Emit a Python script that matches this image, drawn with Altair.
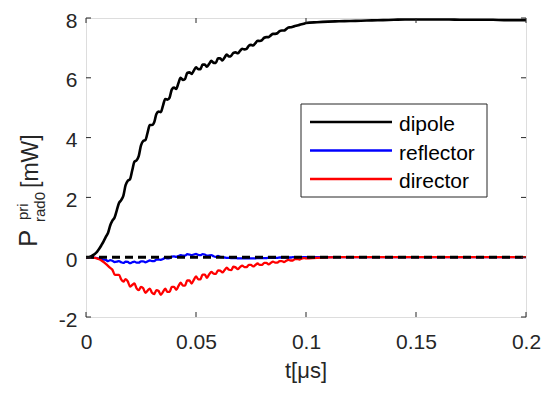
import altair as alt
import pandas as pd
import numpy as np

# ---------------- data ----------------
series_names = ["dipole", "reflector", "director"]
series_colors = ["#000000", "#0000ff", "#ff0000"]

t_fine = np.round(np.arange(0, 101) * 0.001, 3).tolist()
t_coarse = [0.105, 0.11, 0.115, 0.12, 0.125, 0.13, 0.135, 0.14, 0.145, 0.15,
            0.155, 0.16, 0.165, 0.17, 0.175, 0.18, 0.185, 0.19, 0.195, 0.2]

dipole = [0.00, 0.00, 0.02, 0.06, 0.11, 0.18, 0.28, 0.40, 0.53, 0.68,
          0.81, 1.06, 1.22, 1.33, 1.57, 1.81, 1.91, 2.06, 2.41, 2.56,
          2.61, 2.90, 3.19, 3.24, 3.39, 3.74, 3.89, 3.92, 4.17, 4.42,
          4.42, 4.51, 4.79, 4.87, 4.85, 5.07, 5.29, 5.27, 5.34, 5.61,
          5.67, 5.63, 5.82, 6.00, 5.93, 5.96, 6.16, 6.18, 6.13, 6.24,
          6.35, 6.29, 6.29, 6.44, 6.44, 6.37, 6.47, 6.57, 6.50, 6.50,
          6.65, 6.65, 6.58, 6.68, 6.78, 6.71, 6.74, 6.83, 6.85, 6.82,
          6.90, 6.97, 6.95, 6.97, 7.07, 7.10, 7.08, 7.16, 7.24, 7.23,
          7.26, 7.34, 7.36, 7.36, 7.42, 7.47, 7.47, 7.49, 7.56, 7.58,
          7.58, 7.63, 7.68, 7.69, 7.71, 7.73, 7.75, 7.77, 7.79, 7.81,
          7.83,
          7.86, 7.88, 7.89, 7.90, 7.91, 7.92, 7.93, 7.94, 7.95, 7.95,
          7.95, 7.95, 7.95, 7.94, 7.94, 7.94, 7.94, 7.93, 7.93, 7.93]

reflector = [0.00, 0.00, 0.00, -0.01, -0.02, -0.03, -0.05, -0.06, -0.08, -0.09,
             -0.13, -0.10, -0.12, -0.16, -0.15, -0.13, -0.17, -0.19, -0.15, -0.16,
             -0.20, -0.17, -0.15, -0.18, -0.18, -0.14, -0.14, -0.17, -0.14, -0.11,
             -0.13, -0.13, -0.08, -0.08, -0.09, -0.06, -0.02, -0.04, -0.03, 0.02,
             0.03, 0.01, 0.04, 0.07, 0.05, 0.05, 0.10, 0.09, 0.07, 0.09,
             0.11, 0.08, 0.07, 0.10, 0.09, 0.05, 0.06, 0.07, 0.03, 0.01,
             0.04, 0.01, 0.00, -0.01, -0.02, -0.02, -0.03, -0.03, -0.03, -0.04,
             -0.04, -0.04, -0.04, -0.04, -0.04, -0.04, -0.04, -0.04, -0.03, -0.03,
             -0.03, -0.03, -0.03, -0.02, -0.02, -0.02, -0.02, -0.02, -0.01, -0.01,
             -0.01, -0.01, -0.01, -0.01, 0.00, 0.00, 0.00, 0.00, 0.00, 0.00,
             0.00,
             0.00, 0.00, 0.00, 0.00, 0.00, 0.00, 0.00, 0.00, 0.00, 0.00,
             0.00, 0.00, 0.00, 0.00, 0.00, 0.00, 0.00, 0.00, 0.00, 0.00]

director = [0.00, 0.00, 0.00, -0.01, -0.02, -0.04, -0.07, -0.11, -0.16, -0.22,
            -0.29, -0.36, -0.42, -0.58, -0.59, -0.59, -0.74, -0.82, -0.73, -0.81,
            -0.98, -0.93, -0.88, -1.04, -1.10, -0.99, -1.04, -1.19, -1.12, -1.05,
            -1.19, -1.23, -1.10, -1.13, -1.26, -1.16, -1.05, -1.16, -1.16, -0.99,
            -0.99, -1.09, -0.97, -0.85, -0.95, -0.95, -0.78, -0.78, -0.88, -0.76,
            -0.64, -0.74, -0.74, -0.58, -0.58, -0.69, -0.57, -0.49, -0.55, -0.56,
            -0.44, -0.45, -0.51, -0.43, -0.35, -0.42, -0.43, -0.32, -0.34, -0.40,
            -0.33, -0.28, -0.33, -0.33, -0.26, -0.26, -0.31, -0.26, -0.21, -0.26,
            -0.26, -0.19, -0.19, -0.24, -0.19, -0.15, -0.18, -0.18, -0.13, -0.13,
            -0.16, -0.12, -0.09, -0.11, -0.11, -0.06, -0.06, -0.08, -0.05, -0.03,
            -0.04,
            -0.02, -0.005, 0.00, 0.00, 0.00, 0.00, 0.00, 0.00, 0.00, 0.00,
            0.00, 0.00, 0.00, 0.00, 0.00, 0.00, 0.00, 0.00, 0.00, 0.00]

ref_t = [0.0, 0.2]
ref_v = [0.0, 0.0]

x_ticks = [0, 0.05, 0.1, 0.15, 0.2]
y_ticks = [-2, 0, 2, 4, 6, 8]

x_title = "t[μs]"
y_title_main = "P"
y_title_sup = "pri"
y_title_sub = "rad0"
y_title_unit = "[mW]"

# ---------------- chart ----------------
W, H = 440, 299
FONT = "Liberation Sans"
AX = "#262626"

t_all = t_fine + t_coarse
x_scale = alt.Scale(domain=[0, 0.2], nice=False, zero=False)
y_scale = alt.Scale(domain=[-2, 8], nice=False, zero=False)

x_axis = alt.Axis(values=x_ticks, labelExpr="'' + datum.value", ticks=False, tickSize=0,
                  domain=False, grid=False, title=None, labelFontSize=21, labelColor=AX,
                  labelPadding=14, labelFlush=False, labelOverlap=False, labelFont=FONT)
y_axis = alt.Axis(values=y_ticks, labelExpr="'' + datum.value", ticks=False, tickSize=0,
                  domain=False, grid=False, title=None, labelFontSize=21, labelColor=AX,
                  labelPadding=9, labelOffset=3, labelFlush=False, labelOverlap=False, labelFont=FONT)

X = lambda f: alt.X(f, scale=x_scale, axis=x_axis)
Y = lambda f: alt.Y(f, scale=y_scale, axis=y_axis)


def line_layer(values, color, width, dash=None, t=None):
    df = pd.DataFrame({"t": t if t is not None else t_all, "v": values})
    kw = dict(color=color, strokeWidth=width, strokeJoin="round", strokeCap="butt",
              interpolate="monotone")
    if dash:
        kw["strokeDash"] = dash
        kw["interpolate"] = "linear"
    return alt.Chart(df).mark_line(**kw).encode(x=X("t:Q"), y=Y("v:Q"))


layers = [
    line_layer(dipole, series_colors[0], 2.6),
    line_layer(reflector, series_colors[1], 2.3),
    line_layer(director, series_colors[2], 2.3),
    line_layer(ref_v, "#000000", 3, dash=[8, 5], t=ref_t),
]

# inward ticks on all four sides
xt = pd.DataFrame({"t": x_ticks})
yt = pd.DataFrame({"v": y_ticks})
TL = 5
for y0, y1 in [(H, H - TL), (0, TL)]:
    layers.append(alt.Chart(xt).mark_rule(color=AX, strokeWidth=1).encode(
        x=X("t:Q"), y=alt.value(y0), y2=alt.value(y1)))
for x0, x1 in [(0, TL), (W, W - TL)]:
    layers.append(alt.Chart(yt).mark_rule(color=AX, strokeWidth=1).encode(
        y=Y("v:Q"), x=alt.value(x0), x2=alt.value(x1)))

one = alt.Chart(pd.DataFrame({"a": [0]}))

# legend
layers.append(one.mark_rect(fill="white", stroke=AX, strokeWidth=1).encode(
    x=alt.value(215), x2=alt.value(401), y=alt.value(86), y2=alt.value(179)))
for i, (name, col) in enumerate(zip(series_names, series_colors)):
    ry = 104 + 28.5 * i
    layers.append(one.mark_rule(color=col, strokeWidth=2.5).encode(
        x=alt.value(224), x2=alt.value(306), y=alt.value(ry)))
    layers.append(one.mark_text(align="left", baseline="alphabetic", fontSize=21,
                                font=FONT, color="#000000").encode(
        x=alt.value(313), y=alt.value(ry + 9), text=alt.value(name)))

# axis titles
layers.append(one.mark_text(align="center", baseline="alphabetic", fontSize=22,
                            font=FONT, color=AX).encode(
    x=alt.value(W / 2), y=alt.value(360), text=alt.value(x_title)))


def rot_text(txt, size, bx, by):
    return one.mark_text(align="left", baseline="alphabetic", angle=270, fontSize=size,
                         font=FONT, color=AX).encode(
        x=alt.value(bx), y=alt.value(by), text=alt.value(txt))


layers.append(rot_text(y_title_main, 26, -49, 229))
layers.append(rot_text(y_title_sup, 15, -58, 202))
layers.append(rot_text(y_title_sub, 15, -41, 204))
layers.append(rot_text(y_title_unit, 23, -48, 170))

chart = alt.layer(*layers).properties(
    width=W, height=H,
    autosize=alt.AutoSizeParams(type="none"),
    padding={"left": 78, "top": 10, "right": 16, "bottom": 66},
).configure_view(stroke=AX, strokeWidth=1).configure(font=FONT, background="white")

chart.save("out.html", embed_options={"renderer": "svg", "actions": False})
